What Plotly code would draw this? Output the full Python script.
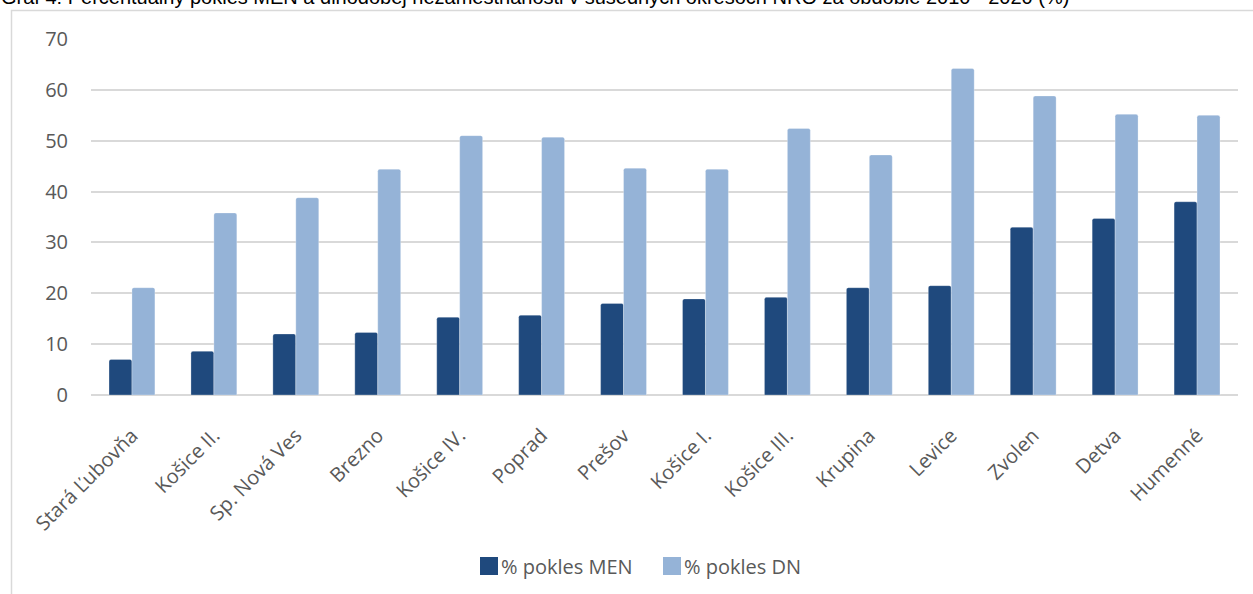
import plotly.graph_objects as go

categories = ["Stará Ľubovňa", "Košice II.", "Sp. Nová Ves", "Brezno", "Košice IV.", "Poprad",
              "Prešov", "Košice I.", "Košice III.", "Krupina", "Levice", "Zvolen", "Detva", "Humenné"]
pokles_men = [7.0, 8.6, 12.0, 12.3, 15.3, 15.7, 18.0, 18.9, 19.2, 21.1, 21.5, 33.0, 34.7, 38.0]
pokles_dn = [21.1, 35.8, 38.8, 44.4, 51.0, 50.7, 44.6, 44.4, 52.4, 47.2, 64.2, 58.8, 55.2, 55.0]
series_names = ["% pokles MEN", "% pokles DN"]
series_colors = ["#1F497D", "#95B3D7"]
y_ticks = [0, 10, 20, 30, 40, 50, 60, 70]
title_text = "Graf 4: Percentuálny pokles MEN a dlhodobej nezamestnanosti v susedných okresoch NRO za obdobie 2010 - 2020 (%)"

W, H = 1253, 594
L, R, T, B = 91, 15, 39, 199
pw, ph = W - L - R, H - T - B

def px(x):
    return (x - L) / pw

def py(y):
    return (H - B - y) / ph

fig = go.Figure()
for name, vals, col in zip(series_names, [pokles_men, pokles_dn], series_colors):
    fig.add_trace(go.Bar(x=categories, y=vals, name=name, showlegend=False,
                         marker=dict(color=col, cornerradius=2,
                                     line=dict(color="rgba(255,255,255,0.35)", width=0.8))))

# custom legend (swatch directly followed by text, as in the reference)
legend_items = [(480, series_names[0], series_colors[0]), (663, series_names[1], series_colors[1])]
shapes = [
    dict(type="line", xref="paper", yref="paper", x0=px(11), x1=px(1260), y0=py(10.5), y1=py(10.5),
         line=dict(color="#D9D9D9", width=1.5)),
    dict(type="line", xref="paper", yref="paper", x0=px(11.5), x1=px(11.5), y0=py(10), y1=py(600),
         line=dict(color="#D9D9D9", width=1.5)),
]
annotations = [dict(text=title_text, xref="paper", yref="paper", x=px(-1), y=py(10),
                    xanchor="left", yanchor="bottom", showarrow=False,
                    font=dict(family="Liberation Sans", size=20, color="#000000"))]
for x0, name, col in legend_items:
    shapes.append(dict(type="rect", xref="paper", yref="paper", x0=px(x0), x1=px(x0 + 18),
                       y0=py(557), y1=py(575), fillcolor=col, line=dict(color=col, width=0)))
    annotations.append(dict(text=name, xref="paper", yref="paper", x=px(x0 + 19), y=py(566),
                            xanchor="left", yanchor="middle", showarrow=False,
                            font=dict(family="Open Sans", size=20, color="#595959")))

fig.update_layout(
    width=W, height=H,
    margin=dict(l=L, r=R, t=T, b=B, autoexpand=False),
    paper_bgcolor="white", plot_bgcolor="white",
    barmode="group", bargap=0.44, bargroupgap=0.0,
    font=dict(family="Open Sans", size=20, color="#595959"),
    showlegend=False,
    xaxis=dict(showgrid=False, tickangle=-45, showline=False, ticks="", ticklabelstandoff=24,
               tickfont=dict(family="Open Sans", size=20, color="#595959")),
    yaxis=dict(range=[0, 70], tickvals=y_ticks, showgrid=True, gridcolor="#D9D9D9", gridwidth=1.5,
               zeroline=True, zerolinecolor="#D9D9D9", zerolinewidth=1.5, showline=False,
               ticks="", ticklabelstandoff=22,
               tickfont=dict(family="Open Sans", size=20, color="#595959")),
    annotations=annotations,
    shapes=shapes,
)

fig.write_html("out.html", config={"displayModeBar": False},
               post_script="document.body.style.margin='0px';")
